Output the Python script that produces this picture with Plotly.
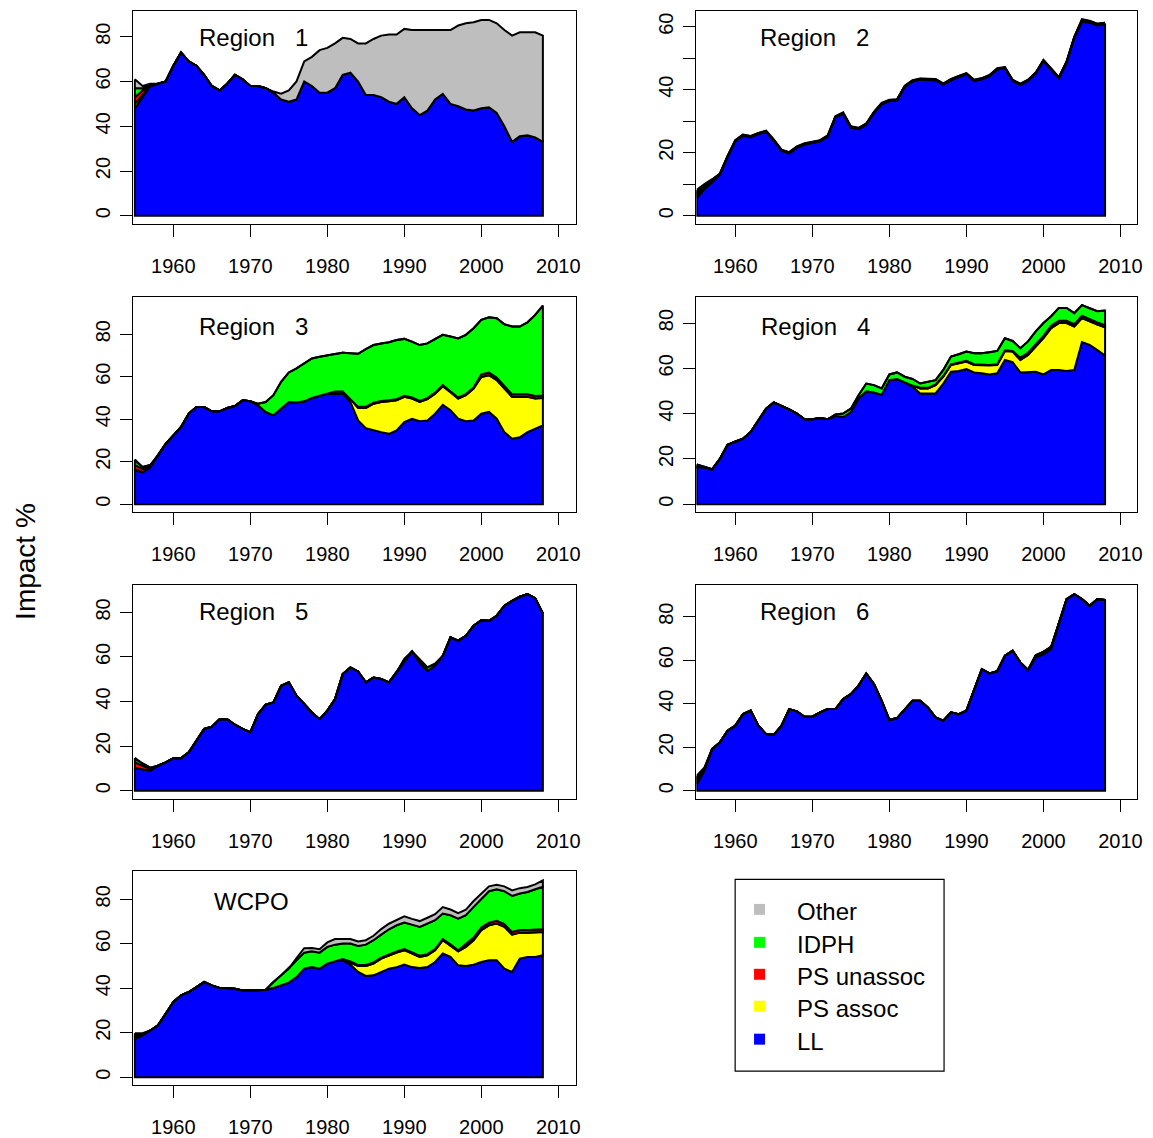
import numpy as np
import plotly.graph_objects as go

YEARS = list(range(1955, 2009))
X_TICKS = [1960, 1970, 1980, 1990, 2000, 2010]
SERIES = ["LL", "PS assoc", "PS unassoc", "IDPH", "Other"]
COLORS = ["#0000FF", "#FFFF00", "#FF0000", "#00FF00", "#BEBEBE"]
LEGEND_ORDER = ["Other", "IDPH", "PS unassoc", "PS assoc", "LL"]

# ---------------- Region 1 ----------------
R1_LL = [48, 53, 58, 59, 60, 67, 73, 69, 67, 63,
         58, 56, 59, 63, 61, 58, 58, 57, 55, 52,
         51, 52, 60, 58, 55, 55, 57, 63, 64, 60,
         54, 54, 53, 51, 50, 53, 48, 45, 47, 52,
         54.5, 50, 49, 47.5, 47, 48, 48.5, 46, 40, 33,
         35.5, 36, 35, 33]
R1_PSA = [2, 1, 0, 0, 0, 0, 0, 0, 0, 0,
          0, 0, 0, 0, 0, 0, 0, 0, 0, 0,
          0, 0, 0, 0, 0, 0, 0, 0, 0, 0,
          0, 0, 0, 0, 0, 0, 0, 0, 0, 0,
          0, 0, 0, 0, 0, 0, 0, 0, 0, 0,
          0, 0, 0, 0]
R1_PSU = [3, 2, 0, 0, 0, 0, 0, 0, 0, 0,
          0, 0, 0, 0, 0, 0, 0, 0, 0, 0,
          0, 0, 0, 0, 0, 0, 0, 0, 0, 0,
          0, 0, 0, 0, 0, 0, 0, 0, 0, 0,
          0, 0, 0, 0, 0, 0, 0, 0, 0, 0,
          0, 0, 0, 0]
R1_IDPH = [4, 1, 0.5, 0, 0, 0, 0, 0, 0, 0,
           0, 0, 0, 0, 0, 0, 0, 0, 0, 0,
           0, 0, 0, 0, 0, 0, 0, 0, 0, 0,
           0, 0, 0, 0, 0, 0, 0, 0, 0, 0,
           0, 0, 0, 0, 0, 0, 0, 0, 0, 0,
           0, 0, 0, 0]
R1_OTH = [4, 1, 0.5, 0, 0, 0, 0, 0, 0, 0,
          0, 0, 0, 0, 0, 0, 0, 0, 0.5, 2.5,
          5, 8, 9, 13, 19, 20, 20, 16.5, 15, 17,
          23, 25, 27.5, 30, 31, 30.5, 35, 38, 36, 31,
          28.5, 33, 36, 38.5, 39.5, 39.5, 39, 40, 43, 47.5,
          46.5, 46, 47, 47.5]

# ---------------- Region 2 ----------------
R2_LL = [5.5, 8.5, 10.6, 13, 18.6, 23.6, 25.4, 24.9, 25.9, 26.6,
         23.8, 20.6, 19.8, 21.6, 22.6, 23, 23.6, 25.1, 31.2, 32.4,
         28, 27.5, 28.9, 32.6, 35.4, 36.4, 36.6, 40.9, 42.6, 43.2,
         43, 43, 41.6, 43, 44, 44.9, 42.8, 43.3, 44.3, 46.4,
         46.8, 42.8, 41.5, 42.8, 45.1, 49.1, 46.4, 43.6, 48.6, 56.4,
         61.6, 61.3, 60.4, 60.7]
R2_PSA = [0.6, 0.35, 0.25, 0.1, 0.1, 0.1, 0.1, 0.1, 0.1, 0.1,
          0.1, 0.1, 0.1, 0.1, 0.1, 0.1, 0.1, 0.1, 0.1, 0.1,
          0.1, 0.1, 0.1, 0.1, 0.1, 0.1, 0.1, 0.1, 0.1, 0.1,
          0.1, 0.1, 0.1, 0.1, 0.1, 0.1, 0.1, 0.1, 0.1, 0.1,
          0.1, 0.1, 0.1, 0.1, 0.1, 0.1, 0.1, 0.1, 0.1, 0.1,
          0.2, 0.15, 0.15, 0.15]
R2_PSU = [0.7, 0.4, 0.25, 0.1, 0.1, 0.1, 0.1, 0.1, 0.1, 0.1,
          0.1, 0.1, 0.1, 0.1, 0.1, 0.1, 0.1, 0.1, 0.1, 0.1,
          0.1, 0.1, 0.1, 0.1, 0.1, 0.1, 0.1, 0.1, 0.1, 0.1,
          0.1, 0.1, 0.1, 0.1, 0.1, 0.1, 0.1, 0.1, 0.1, 0.1,
          0.1, 0.1, 0.1, 0.1, 0.1, 0.1, 0.1, 0.1, 0.1, 0.1,
          0.2, 0.15, 0.15, 0.15]
R2_IDPH = [0.7, 0.4, 0.25, 0.1, 0.1, 0.1, 0.1, 0.1, 0.1, 0.1,
           0.1, 0.1, 0.1, 0.1, 0.1, 0.1, 0.1, 0.1, 0.1, 0.1,
           0.1, 0.1, 0.1, 0.1, 0.1, 0.1, 0.1, 0.1, 0.1, 0.1,
           0.1, 0.1, 0.1, 0.1, 0.1, 0.1, 0.1, 0.1, 0.1, 0.1,
           0.1, 0.1, 0.1, 0.1, 0.1, 0.1, 0.1, 0.1, 0.1, 0.1,
           0.2, 0.15, 0.15, 0.15]
R2_OTH = [0.7, 0.4, 0.25, 0.1, 0.1, 0.1, 0.1, 0.1, 0.1, 0.1,
          0.1, 0.1, 0.1, 0.1, 0.1, 0.1, 0.1, 0.1, 0.1, 0.1,
          0.1, 0.1, 0.1, 0.1, 0.1, 0.1, 0.1, 0.1, 0.1, 0.1,
          0.1, 0.1, 0.1, 0.1, 0.1, 0.1, 0.1, 0.1, 0.1, 0.1,
          0.1, 0.1, 0.1, 0.1, 0.1, 0.1, 0.1, 0.1, 0.1, 0.1,
          0.2, 0.15, 0.15, 0.15]

# ---------------- Region 3 ----------------
R3_LL = [16, 15, 17.4, 23, 28.4, 32.3, 36.3, 42.6, 45.7, 45.7,
         43.7, 43.7, 45.3, 46.2, 48.9, 48.4, 46.5, 43.4, 41.8, 45,
         48.1, 47.8, 48.4, 50, 51, 52, 52, 52, 48.1, 39.4,
         35.8, 34.7, 33.9, 33.1, 34.7, 38.6, 40.2, 39, 39.4, 42.6,
         46.8, 44.2, 40.2, 39, 39.4, 42.6, 43.4, 40.2, 33.9, 30.8,
         31.5, 33.9, 35.5, 37.1]
R3_PSA = [0.5, 0, 0, 0, 0, 0, 0, 0, 0, 0,
          0, 0, 0, 0, 0, 0, 0, 0, 0, 0,
          0, 0, 0, 0, 0, 0, 1, 1, 1.5, 5.9,
          9.5, 12.6, 14.2, 15.3, 14.2, 11.9, 9.5, 9.1, 10, 9.4,
          8.7, 8.6, 9.5, 12.3, 15, 17.3, 17.3, 18.2, 20.5, 19.7,
          19, 16.6, 14.2, 12.9]
R3_PSU = [2, 1.5, 0.5, 0, 0, 0, 0, 0, 0, 0,
          0, 0, 0, 0, 0, 0, 0, 0, 0, 0,
          0, 0, 0, 0, 0, 0, 0, 0, 0, 0.5,
          0.5, 0.5, 0.5, 0.5, 0.5, 0.5, 0.5, 0.5, 0.5, 0.5,
          0.5, 0.5, 0.5, 0.5, 0.5, 1.2, 1.2, 1.2, 1.2, 1.2,
          1.2, 1.2, 1.2, 1.2]
R3_IDPH = [2, 1, 0.5, 0, 0, 0, 0, 0, 0, 0,
           0, 0, 0, 0, 0, 0, 0.8, 4.7, 9.5, 12.6,
           13.9, 16.1, 17.8, 18.6, 18.4, 18.2, 17.7, 18.3, 21.4, 25,
           27.2, 27.1, 27, 27.3, 27.9, 26.8, 26.3, 26.3, 25.8, 25.3,
           23.7, 25.6, 27.8, 27.9, 27.9, 25.7, 26.1, 27.9, 29.1, 31.9,
           31.9, 33.9, 38.2, 42.3]
R3_OTH = [0.5, 0, 0, 0, 0, 0, 0, 0, 0, 0,
          0, 0, 0, 0, 0, 0, 0, 0, 0, 0,
          0, 0, 0, 0, 0, 0, 0, 0, 0, 0,
          0, 0, 0, 0, 0, 0, 0, 0, 0, 0,
          0, 0, 0, 0, 0, 0, 0, 0, 0, 0,
          0, 0, 0, 0]

# ---------------- Region 4 ----------------
R4_LL = [16.3, 16.3, 15.3, 20, 26.2, 27.7, 28.9, 31.9, 37, 42.2,
         44.9, 43.4, 41.9, 40, 37.5, 37.5, 38.1, 37.5, 39, 38.5,
         40.7, 46.7, 49.9, 49.3, 48.4, 54.8, 55.3, 53.8, 51.9, 48.9,
         48.9, 48.9, 53.3, 58.5, 58.8, 59.7, 58.2, 57.8, 57.3, 57.8,
         63.7, 62.7, 58.2, 58.2, 58.5, 57.3, 59.3, 59.3, 58.8, 59.3,
         71.6, 70.4, 68.1, 65.6]
R4_PSA = [0, 0, 0, 0, 0, 0, 0, 0, 0, 0,
          0, 0, 0, 0, 0, 0, 0, 0, 0, 0,
          0, 0, 0, 0, 0, 0, 0, 0, 0.5, 2.2,
          2.2, 3.7, 3, 3, 3.4, 3.3, 3.3, 3.7, 3.9, 3.7,
          4, 4.7, 5.5, 7.7, 11.1, 16, 18.5, 20.7, 21.2, 19.2,
          10.6, 10.3, 11.2, 12.5]
R4_PSU = [0.5, 0, 0, 0, 0, 0, 0, 0, 0, 0,
          0, 0, 0, 0, 0, 0, 0, 0, 0, 0,
          0, 0, 0, 0, 0, 0, 0, 0, 0, 0.3,
          0.3, 0.3, 0.3, 0.3, 0.3, 0.3, 0.3, 0.3, 0.3, 0.3,
          0.3, 0.3, 1, 1, 1, 1, 1, 1, 1, 1,
          1, 1, 1, 1]
R4_IDPH = [0.7, 0.2, 0.2, 0, 0, 0, 0, 0, 0, 0,
           0, 0, 0, 0, 0, 0, 0, 0, 0.6, 1.5,
           1.5, 1.4, 3.4, 3.3, 2.7, 2.5, 2.9, 2.5, 2.9, 1.9,
           2.7, 1.9, 2.7, 3.4, 3.7, 4.1, 4.9, 4.9, 5.6, 5.9,
           5.3, 4.4, 4.2, 5, 5.7, 5.7, 4.2, 5.7, 5.7, 4.9,
           4.7, 4.7, 4.9, 6.4]
R4_OTH = [0, 0, 0, 0, 0, 0, 0, 0, 0, 0,
          0, 0, 0, 0, 0, 0, 0, 0, 0, 0,
          0, 0, 0, 0, 0, 0, 0, 0, 0, 0,
          0, 0, 0, 0, 0, 0, 0, 0, 0, 0,
          0, 0, 0, 0, 0, 0, 0, 0, 0, 0,
          0, 0, 0, 0]

# ---------------- Region 5 ----------------
R5_LL = [9.7, 9.7, 9, 11.2, 12.7, 14.6, 14.6, 17.2, 22.4, 27.7,
         28.7, 32.1, 32.1, 29.6, 27.7, 26.2, 34.4, 38.6, 39.6, 47.1,
         48.6, 42.6, 38.9, 35.1, 32.1, 35.9, 41.1, 52.3, 55.3, 53.5,
         48.6, 50.8, 50.1, 48.6, 53.1, 58, 62.5, 57.5, 53.8, 56,
         60.5, 68.8, 67.3, 69.5, 74, 76.5, 76.2, 78.5, 83, 85.2,
         87, 88.2, 86.4, 79.5]
R5_PSA = [0.5, 0, 0, 0, 0, 0, 0, 0, 0, 0,
          0, 0, 0, 0, 0, 0, 0, 0, 0, 0,
          0, 0, 0, 0, 0, 0, 0, 0, 0, 0,
          0, 0, 0, 0, 0, 0, 0, 0, 0, 0,
          0, 0, 0, 0, 0, 0, 0, 0, 0, 0,
          0, 0, 0, 0]
R5_PSU = [2.5, 1.5, 0.8, 0, 0, 0, 0, 0, 0, 0,
          0, 0, 0, 0, 0, 0, 0, 0, 0, 0,
          0, 0, 0, 0, 0, 0, 0, 0, 0, 0,
          0, 0, 0, 0, 0, 0, 0, 0, 0, 0,
          0, 0, 0, 0, 0, 0, 0, 0, 0, 0,
          0, 0, 0, 0]
R5_IDPH = [1.5, 1, 0.5, 0, 0, 0, 0, 0, 0, 0,
           0, 0, 0, 0, 0, 0, 0, 0, 0, 0,
           0, 0, 0, 0, 0, 0, 0, 0, 0, 0,
           0, 0, 0, 0, 0, 1, 0, 1.2, 1.5, 1,
           0, 0, 0, 0, 0, 0, 0, 0, 0, 0,
           0, 0, 0, 0]
R5_OTH = [0.5, 0, 0, 0, 0, 0, 0, 0, 0, 0,
          0, 0, 0, 0, 0, 0, 0, 0, 0, 0,
          0, 0, 0, 0, 0, 0, 0, 0, 0, 0,
          0, 0, 0, 0, 0, 0, 0, 0, 0, 0,
          0, 0, 0, 0, 0, 0, 0, 0, 0, 0,
          0, 0, 0, 0]

# ---------------- Region 6 ----------------
R6_LL = [3, 9.2, 19.2, 22.2, 27.6, 29.9, 35.2, 36.8, 29.9, 26,
         25.7, 29.9, 37.5, 36.5, 34, 34, 36, 37.5, 37.5, 42.1,
         44.4, 48.3, 53.9, 49, 41.4, 32.5, 33.4, 37.5, 41.4, 41.4,
         38.3, 33.7, 32.2, 36, 35.2, 36.8, 46.7, 55.9, 53.9, 54.9,
         62.1, 64.4, 59, 55.5, 61.3, 62.8, 65.1, 76.6, 88.1, 90.4,
         88.1, 85, 88.1, 87.7]
R6_PSA = [1, 0.4, 0, 0, 0, 0, 0, 0, 0, 0,
          0, 0, 0, 0, 0, 0, 0, 0, 0, 0,
          0, 0, 0, 0, 0, 0, 0, 0, 0, 0,
          0, 0, 0, 0, 0, 0, 0, 0, 0, 0,
          0, 0, 0, 0, 1, 1, 1, 0, 0, 0,
          0, 0, 0, 0]
R6_PSU = [1, 0.4, 0, 0, 0, 0, 0, 0, 0, 0,
          0, 0, 0, 0, 0, 0, 0, 0, 0, 0,
          0, 0, 0, 0, 0, 0, 0, 0, 0, 0,
          0, 0, 0, 0, 0, 0, 0, 0, 0, 0,
          0, 0, 0, 0, 0, 0, 0, 0, 0, 0,
          0, 0, 0, 0]
R6_IDPH = [1, 0.4, 0, 0, 0, 0, 0, 0, 0, 0,
           0, 0, 0, 0, 0, 0, 0, 0, 0, 0,
           0, 0, 0, 0, 0, 0, 0, 0, 0, 0,
           0, 0, 0, 0, 0, 0, 0, 0, 0, 0,
           0, 0, 0, 0, 0, 0, 0, 0, 0, 0,
           0, 0, 0, 0]
R6_OTH = [0.9, 0.3, 0, 0, 0, 0, 0, 0, 0, 0,
          0, 0, 0, 0, 0, 0, 0, 0, 0, 0,
          0, 0, 0, 0, 0, 0, 0, 0, 0, 0,
          0, 0, 0, 0, 0, 0, 0, 0, 0, 0,
          0, 0, 0, 0, 0, 0, 0, 0, 0, 0,
          0, 0, 0, 0]

# ---------------- WCPO ----------------
R7_LL = [17.3, 18.8, 21, 23.3, 28.5, 33.8, 36.8, 38.3, 40.5, 42.8,
         41.3, 40.1, 40.1, 39.8, 39, 39, 39, 39.3, 40.1, 41.3,
         42.5, 45, 48.8, 49.5, 48.8, 51.1, 52.1, 52.6, 50.6, 47.3,
         45.5, 45.8, 47.3, 48.8, 49.5, 50.6, 49.5, 49.1, 49.5, 51.8,
         55.6, 54.1, 50.3, 50, 50.6, 51.8, 52.6, 52.6, 48.8, 47.3,
         53.3, 54.1, 54.1, 54.8]
R7_PSA = [0, 0, 0, 0, 0, 0, 0, 0, 0, 0,
          0, 0, 0, 0, 0, 0, 0, 0, 0, 0,
          0, 0, 0, 0, 0, 0, 0, 0.5, 0.9, 2.7,
          4.5, 5.3, 6, 6, 6.5, 6.5, 6.1, 5, 5.3, 5.3,
          6, 5.2, 6.3, 8.6, 11, 14.3, 15.7, 16.5, 18.8, 16.8,
          11.7, 10.9, 10.9, 10.5]
R7_PSU = [1, 0.5, 0, 0, 0, 0, 0, 0, 0, 0,
          0, 0, 0, 0, 0, 0, 0, 0, 0, 0,
          0, 0, 0, 0, 0, 0, 0, 0, 0.5, 0.5,
          0.5, 0.5, 0.5, 0.5, 0.5, 0.5, 0.5, 0.5, 0.5, 0.5,
          0.5, 0.5, 0.5, 1.2, 1.2, 1.2, 1.2, 1.2, 1.2, 1.2,
          1.2, 1.2, 1.2, 1.2]
R7_IDPH = [0.5, 0, 0, 0, 0, 0, 0, 0, 0, 0,
           0, 0, 0, 0, 0, 0, 0, 0, 2.7, 4.5,
           6.3, 7.6, 7.2, 7.1, 7.2, 7.5, 7.5, 7, 8.1, 8.5,
           9.1, 10, 10.3, 11.2, 11.8, 11.9, 12.5, 13, 13.8, 13,
           11.5, 13, 14.2, 13, 13.8, 13, 14.1, 14.2, 14.8, 16.2,
           16.4, 17.1, 18.3, 19.1]
R7_OTH = [1, 0.5, 0, 0, 0, 0, 0, 0, 0, 0,
          0, 0, 0, 0, 0, 0, 0, 0, 0, 0,
          0, 1, 2, 1.5, 1.5, 2, 2.5, 2, 2, 2,
          2, 2, 2.5, 2.5, 2.5, 2.8, 2.6, 2.6, 2.6, 2.7,
          2.9, 2.6, 2.5, 2.5, 2.6, 2.2, 2.2, 2, 2.2, 2.5,
          2.4, 2.2, 2.2, 2.9]

PANEL_TITLES = ["Region\u00a0\u00a0\u00a01", "Region\u00a0\u00a0\u00a02", "Region\u00a0\u00a0\u00a03",
                "Region\u00a0\u00a0\u00a04", "Region\u00a0\u00a0\u00a05", "Region\u00a0\u00a0\u00a06", "WCPO"]
PANEL_DATA = [
    [R1_LL, R1_PSA, R1_PSU, R1_IDPH, R1_OTH],
    [R2_LL, R2_PSA, R2_PSU, R2_IDPH, R2_OTH],
    [R3_LL, R3_PSA, R3_PSU, R3_IDPH, R3_OTH],
    [R4_LL, R4_PSA, R4_PSU, R4_IDPH, R4_OTH],
    [R5_LL, R5_PSA, R5_PSU, R5_IDPH, R5_OTH],
    [R6_LL, R6_PSA, R6_PSU, R6_IDPH, R6_OTH],
    [R7_LL, R7_PSA, R7_PSU, R7_IDPH, R7_OTH],
]
Y_TICKS = [[0, 20, 40, 60, 80],
           [0, 10, 20, 30, 40, 50, 60],
           [0, 20, 40, 60, 80], [0, 20, 40, 60, 80], [0, 20, 40, 60, 80],
           [0, 20, 40, 60, 80], [0, 20, 40, 60, 80]]
Y_TICKTEXT = [["0", "20", "40", "60", "80"],
              ["0", "", "20", "", "40", "", "60"],
              ["0", "20", "40", "60", "80"], ["0", "20", "40", "60", "80"], ["0", "20", "40", "60", "80"],
              ["0", "20", "40", "60", "80"], ["0", "20", "40", "60", "80"]]
Y_RANGES = [[-3.5, 91.5], [-2.5, 65.0], [-3.75, 97.3], [-3.5, 91.3],
            [-3.55, 92.3], [-3.65, 94.6], [-3.55, 92.5]]

# layout geometry (pixels)
W, H = 1153, 1138
COL_X = [(134, 579), (700, 1143)]
X_RANGES = [[1954.8, 2012.3], [1954.95, 2012.15]]
ROW_Y = [(11, 224), (298, 513), (586, 800), (873, 1087)]
TITLE_POS = [(198, 38), (762, 38), (198, 327), (763, 327), (198, 613), (762, 613), (213, 903)]
FONT = "Liberation Sans, Arial, sans-serif"

for d in PANEL_DATA:
    for s in d:
        assert len(s) == len(YEARS), len(s)

fig = go.Figure()
annotations = []
shapes = []
layout = {}

for i, layers in enumerate(PANEL_DATA):
    row, col = divmod(i, 2)
    x0, x1 = COL_X[col]
    y0, y1 = ROW_Y[row]
    n = i + 1
    xa, ya = f"x{n}", f"y{n}"
    bottom = np.zeros(len(YEARS))
    for vals, color in zip(layers, COLORS):
        top = bottom + np.array(vals, dtype=float)
        xs = YEARS + YEARS[::-1] + [YEARS[0]]
        ys = list(top) + list(bottom[::-1]) + [top[0]]
        fig.add_trace(go.Scatter(x=xs, y=ys, mode="lines", fill="toself",
                                 fillcolor=color, line=dict(color="black", width=2),
                                 xaxis=xa, yaxis=ya, showlegend=False, hoverinfo="skip"))
        bottom = top
    axis_common = dict(showgrid=False, zeroline=False, showline=True, mirror=True,
                       linecolor="black", linewidth=1.2, ticks="outside", ticklen=12,
                       tickwidth=1.2, tickcolor="black",
                       tickfont=dict(family=FONT, size=20, color="black"))
    layout[f"xaxis{n}"] = dict(domain=[x0 / W, x1 / W], range=X_RANGES[col], anchor=ya,
                               tickmode="array", tickvals=X_TICKS,
                               ticktext=[str(t) for t in X_TICKS],
                               ticklabelstandoff=12, **axis_common)
    layout[f"yaxis{n}"] = dict(domain=[1 - y1 / H, 1 - y0 / H], range=Y_RANGES[i], anchor=xa,
                               tickmode="array", tickvals=Y_TICKS[i], ticktext=Y_TICKTEXT[i],
                               tickangle=-90, ticklabelstandoff=2, **axis_common)
    tx, ty = TITLE_POS[i]
    annotations.append(dict(text=PANEL_TITLES[i], xref="paper", yref="paper",
                            x=tx / W, y=1 - ty / H, xanchor="left", yanchor="middle",
                            showarrow=False, font=dict(family=FONT, size=24, color="black")))

# y-axis title
annotations.append(dict(text="Impact %", xref="paper", yref="paper", x=25 / W, y=1 - 562 / H,
                        xanchor="center", yanchor="middle", textangle=-90, showarrow=False,
                        font=dict(family=FONT, size=28, color="black")))

# legend (drawn manually)
shapes.append(dict(type="rect", xref="paper", yref="paper", x0=739 / W, x1=949 / W,
                   y0=1 - 1073 / H, y1=1 - 881 / H, line=dict(color="black", width=1.2),
                   fillcolor="rgba(0,0,0,0)"))
LEG_Y = [911, 944, 976, 1008, 1041]
for name, ly in zip(LEGEND_ORDER, LEG_Y):
    c = COLORS[SERIES.index(name)]
    shapes.append(dict(type="rect", xref="paper", yref="paper", x0=758 / W, x1=769 / W,
                       y0=1 - (ly + 5.5) / H, y1=1 - (ly - 5.5) / H,
                       line=dict(width=0), fillcolor=c))
    annotations.append(dict(text=name, xref="paper", yref="paper", x=799 / W, y=1 - (ly + 2) / H,
                            xanchor="left", yanchor="middle", showarrow=False,
                            font=dict(family=FONT, size=24, color="black")))

fig.update_layout(width=W, height=H, autosize=False, margin=dict(l=0, r=0, t=0, b=0),
                  paper_bgcolor="white", plot_bgcolor="white",
                  annotations=annotations, shapes=shapes, **layout)

fig.write_html("out.html", config={"displayModeBar": False},
               post_script=("document.documentElement.style.margin='0';"
                            "document.documentElement.style.overflow='hidden';"
                            "document.body.style.margin='0';document.body.style.padding='0';"
                            "document.body.style.overflow='hidden';"))
